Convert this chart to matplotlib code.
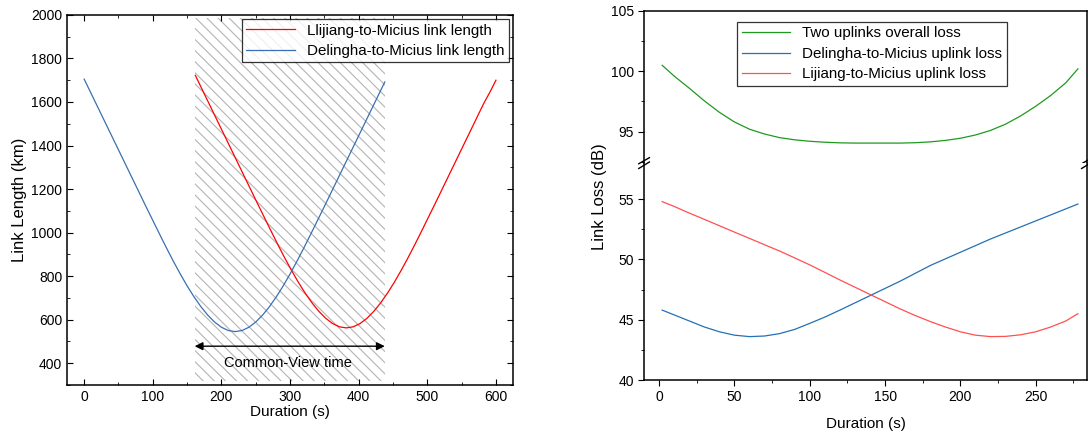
import matplotlib
matplotlib.use("Agg")
import matplotlib.pyplot as plt
import matplotlib.patches as mpatches
import numpy as np

plt.rcParams['font.family'] = ['Liberation Sans', 'DejaVu Sans']
plt.rcParams['hatch.linewidth'] = 0.8
plt.rcParams['hatch.color'] = '#b4b4b4'

# ---- left panel data: link length (km) ----
delingha_t = [0, 10, 20, 30, 40, 50, 60, 70, 80, 90, 100, 110, 120, 130, 140, 150,
              160, 170, 180, 190, 200, 210, 220, 230, 240, 250, 260, 270, 280, 290,
              300, 310, 320, 330, 340, 350, 360, 370, 380, 390, 400, 410, 420, 430, 438]
delingha_km = [1705, 1640, 1575, 1510, 1445, 1380, 1315, 1250, 1185, 1120, 1056, 992,
               929, 868, 810, 755, 705, 660, 621, 589, 565, 550, 545, 550, 565, 589,
               621, 660, 705, 755, 810, 868, 929, 992, 1056, 1120, 1185, 1250, 1315,
               1380, 1445, 1510, 1575, 1640, 1692]
lijiang_t = [162, 172, 182, 192, 202, 212, 222, 232, 242, 252, 262, 272, 282, 292, 302,
             312, 322, 332, 342, 352, 362, 372, 382, 392, 402, 412, 422, 432, 442, 452,
             462, 472, 482, 492, 502, 512, 522, 532, 542, 552, 562, 572, 582, 592, 600]
lijiang_km = [1722, 1657, 1592, 1527, 1462, 1397, 1332, 1267, 1202, 1137, 1073, 1009,
              946, 885, 827, 772, 722, 677, 638, 606, 582, 567, 562, 567, 582, 606, 638,
              677, 722, 772, 827, 885, 946, 1009, 1073, 1137, 1202, 1267, 1332, 1397,
              1462, 1527, 1592, 1650, 1700]
common_view = [161, 438]

# ---- right panel data: link loss (dB) ----
loss_t = [2, 10, 20, 30, 40, 50, 60, 70, 80, 90, 100, 110, 120, 130, 140, 150, 160,
          170, 180, 190, 200, 210, 220, 230, 240, 250, 260, 270, 278]
overall_loss = [100.5, 99.6, 98.6, 97.55, 96.6, 95.8, 95.2, 94.8, 94.5, 94.32, 94.2,
                94.12, 94.07, 94.05, 94.05, 94.05, 94.05, 94.08, 94.15, 94.27, 94.45,
                94.72, 95.1, 95.62, 96.3, 97.1, 98.0, 99.05, 100.2]
delingha_loss = [45.8, 45.4, 44.9, 44.4, 44.0, 43.72, 43.6, 43.65, 43.85, 44.2, 44.7,
                 45.22, 45.8, 46.4, 47.0, 47.6, 48.2, 48.85, 49.5, 50.05, 50.6, 51.15,
                 51.7, 52.2, 52.7, 53.2, 53.7, 54.2, 54.6]
lijiang_loss = [54.8, 54.4, 53.85, 53.33, 52.8, 52.27, 51.75, 51.22, 50.7, 50.13, 49.55,
                48.93, 48.3, 47.7, 47.1, 46.5, 45.9, 45.35, 44.85, 44.4, 44.0, 43.72,
                43.6, 43.62, 43.75, 44.0, 44.4, 44.9, 45.5]

fig = plt.figure(figsize=(10.88, 4.33), dpi=100)

# ================= left =================
ax = fig.add_axes([0.0616, 0.111, 0.41, 0.8545])
hatch = mpatches.Rectangle((common_view[0], 318), common_view[1] - common_view[0], 1668,
                           facecolor='none', edgecolor='#b4b4b4', hatch='\\\\\\',
                           linewidth=0, zorder=1)
ax.add_patch(hatch)
ax.plot(lijiang_t, lijiang_km, color='#ff0000', lw=0.9, label='Llijiang-to-Micius link length', zorder=3)
ax.plot(delingha_t, delingha_km, color='#3a6fb5', lw=0.9, label='Delingha-to-Micius link length', zorder=3)
ax.annotate('', xy=(common_view[0], 478), xytext=(common_view[1], 478),
            arrowprops=dict(arrowstyle='<|-|>', color='black', lw=1.0,
                            shrinkA=0, shrinkB=0, mutation_scale=12))
ax.text(297, 400, 'Common-View time', ha='center', va='center', fontsize=10.5)
ax.set_xlim(-25, 625)
ax.set_ylim(300, 2000)
ax.set_xticks([0, 100, 200, 300, 400, 500, 600])
ax.set_xticks(np.arange(50, 600, 100), minor=True)
ax.set_yticks(np.arange(400, 2001, 200))
ax.set_yticks(np.arange(300, 2000, 100), minor=True)
ax.tick_params(which='both', direction='in', top=True, right=True, labelsize=10)
ax.tick_params(which='major', length=4)
ax.tick_params(which='minor', length=2.5)
ax.set_xlabel('Duration (s)', fontsize=11, labelpad=1)
ax.set_ylabel('Link Length (km)', fontsize=12, labelpad=3)
for s in ax.spines.values():
    s.set_linewidth(1.1)
leg = ax.legend(loc='upper right', fontsize=10.9, frameon=True, fancybox=False,
                edgecolor='black', handlelength=3.2, borderpad=0.3, labelspacing=0.42,
                borderaxespad=0, bbox_to_anchor=(0.991, 0.989))
leg.get_frame().set_linewidth(0.9)

# ================= right (broken axis) =================
ax_top = fig.add_axes([0.592, 0.6236, 0.407, 0.351])
ax_bot = fig.add_axes([0.592, 0.1224, 0.407, 0.501], sharex=ax_top)

l1, = ax_top.plot(loss_t, overall_loss, color='#1f9a1f', lw=0.9, label='Two uplinks overall loss')
l2, = ax_bot.plot(loss_t, delingha_loss, color='#2371b5', lw=0.9, label='Delingha-to-Micius uplink loss')
l3, = ax_bot.plot(loss_t, lijiang_loss, color='#ff5050', lw=0.9, label='Lijiang-to-Micius uplink loss')

ax_top.set_ylim(92.4, 105)
ax_bot.set_ylim(40, 58)
ax_top.set_yticks([95, 100, 105])
ax_top.set_yticks([92.5, 97.5, 102.5], minor=True)
ax_bot.set_yticks([40, 45, 50, 55])
ax_bot.set_yticks([42.5, 47.5, 52.5], minor=True)
ax_bot.set_xlim(-10, 284)
ax_bot.set_xticks([0, 50, 100, 150, 200, 250])
ax_bot.set_xticks([25, 75, 125, 175, 225, 275], minor=True)

for a in (ax_top, ax_bot):
    a.tick_params(which='both', direction='out', labelsize=10)
    a.tick_params(which='major', length=4)
    a.tick_params(which='minor', length=2.5)
    for s in a.spines.values():
        s.set_linewidth(1.1)
ax_top.spines['bottom'].set_visible(False)
ax_bot.spines['top'].set_visible(False)
ax_top.tick_params(axis='x', which='both', bottom=False, labelbottom=False)
ax_bot.set_xlabel('Duration (s)', fontsize=11, labelpad=9)
fig.text(0.551, 0.547, 'Link Loss (dB)', rotation=90, ha='center', va='center', fontsize=12)

# break marks
for xf in (0.0, 1.0):
    ax_top.plot([xf - 0.012, xf + 0.012], [-0.005, 0.035], transform=ax_top.transAxes,
                color='black', lw=1.0, clip_on=False)
    ax_bot.plot([xf - 0.012, xf + 0.012], [0.975, 1.005], transform=ax_bot.transAxes,
                color='black', lw=1.0, clip_on=False)

leg2 = ax_top.legend(handles=[l1, l2, l3], loc='upper left', bbox_to_anchor=(0.21, 0.928),
                     fontsize=10.9, frameon=True, fancybox=False, edgecolor='black',
                     handlelength=3.2, borderpad=0.3, labelspacing=0.42, borderaxespad=0)
leg2.get_frame().set_linewidth(0.9)

fig.savefig('out.png', dpi=100)
